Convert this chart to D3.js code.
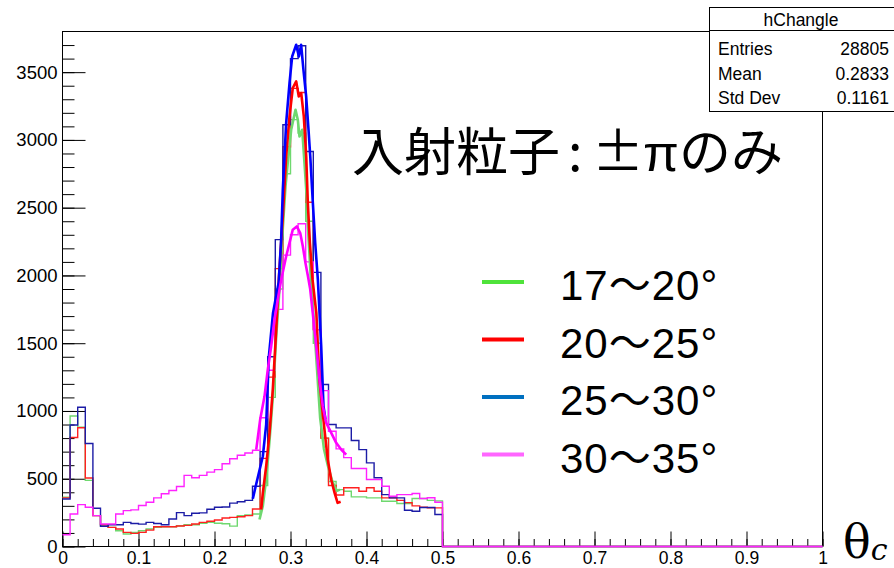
<!DOCTYPE html>
<html>
<head>
<meta charset="utf-8">
<script src="https://cdn.jsdelivr.net/npm/d3@7/dist/d3.min.js"></script>
<style>
  body { margin: 0; background: white; }
  svg { display: block; }
</style>
</head>
<body>
<div id="chart"></div>
<script>
// hChangle: theta_c, bins of 0.01 from 0 to 0.5 (empty above 0.5)
const binWidth = 0.01;
const binLow = d3.range(50).map((i) => i / 100);

// thin histograms (counts per bin)
const green1720 = [364, 963, 880, 488, 228, 153, 141, 116, 92, 104,
  116, 129, 141, 146, 146, 153, 161, 161, 171, 178,
  172, 168, 150, 228, 232, 240, 450, 1100, 1900, 2750,
  3150, 3050, 2400, 1500, 800, 480, 420, 408, 366, 366,
  359, 359, 334, 334, 317, 317, 354, 354, 340, 337];
const red2025 = [359, 804, 876, 505, 228, 161, 141, 129, 104, 97,
  104, 121, 146, 146, 146, 151, 156, 166, 178, 186,
  195, 210, 215, 220, 228, 277, 650, 1250, 2050, 2950,
  3380, 3350, 2540, 1600, 800, 450, 380, 433, 433, 408,
  433, 408, 359, 359, 340, 324, 300, 290, 285, 285];
const blue2530 = [351, 896, 1027, 760, 282, 149, 161, 161, 178, 170,
  165, 178, 170, 161, 203, 250, 228, 245, 248, 275,
  290, 292, 320, 330, 340, 445, 700, 1400, 2264, 3112,
  3600, 3695, 2915, 2023, 1195, 900, 875, 875, 782, 715,
  617, 507, 383, 359, 359, 268, 260, 288, 288, 236];
const magenta3035 = [87, 240, 309, 290, 228, 166, 166, 240, 265, 270,
  302, 327, 359, 389, 413, 443, 525, 507, 525, 549,
  567, 611, 648, 673, 690, 710, 950, 1300, 1750, 2150,
  2300, 2382, 2100, 1600, 1150, 850, 720, 656, 575, 575,
  494, 494, 445, 371, 383, 383, 391, 354, 360, 327];

// thick peak curves [theta_c, counts]
const greenPeak = [[0.2592, 199], [0.2636, 300], [0.268, 500], [0.2724, 780], [0.2767, 1100],
  [0.2812, 1550], [0.2855, 1900], [0.2899, 2350], [0.2934, 2657], [0.2964, 2830],
  [0.3009, 3075], [0.3066, 3223], [0.3096, 3149], [0.3118, 3026], [0.3154, 3075],
  [0.3184, 2830], [0.3207, 2633], [0.3235, 2300], [0.327, 1950], [0.331, 1650],
  [0.335, 1300], [0.339, 950], [0.344, 720], [0.349, 600], [0.355, 480],
  [0.361, 410], [0.365, 420]];
const redPeak = [[0.2614, 273], [0.2636, 396], [0.268, 592], [0.2724, 838], [0.2767, 1158],
  [0.2812, 1600], [0.2846, 1969], [0.2899, 2436], [0.2943, 2878], [0.2987, 3173],
  [0.303, 3383], [0.3075, 3432], [0.3109, 3321], [0.3141, 3346], [0.3175, 3173],
  [0.3207, 2878], [0.3228, 2535], [0.3255, 2240], [0.329, 1969], [0.334, 1723],
  [0.338, 1232], [0.3447, 863], [0.349, 642], [0.3535, 494], [0.358, 396],
  [0.362, 322], [0.366, 330]];
const bluePeak = [[0.2504, 352], [0.2536, 430], [0.2636, 666], [0.268, 900], [0.2715, 1400],
  [0.277, 1723], [0.2845, 1950], [0.2877, 2264], [0.2899, 2633], [0.2943, 3125],
  [0.2987, 3420], [0.3022, 3616], [0.3075, 3702], [0.311, 3616], [0.314, 3702],
  [0.317, 3518], [0.3206, 3321], [0.3237, 3075], [0.326, 2878], [0.3294, 2535],
  [0.3325, 2240], [0.336, 1969], [0.3404, 1477], [0.3434, 1035], [0.346, 937]];
const magentaPeak = [[0.2549, 715], [0.2601, 937], [0.2658, 1108], [0.2701, 1305], [0.2746, 1477],
  [0.2789, 1674], [0.2833, 1822], [0.2878, 1969], [0.2943, 2141], [0.2987, 2240],
  [0.303, 2338], [0.3083, 2362], [0.3128, 2313], [0.3162, 2215], [0.3197, 2092],
  [0.3228, 2000], [0.3259, 1900], [0.3293, 1723], [0.3329, 1527], [0.3382, 1232],
  [0.3425, 1035], [0.347, 912], [0.3536, 838], [0.3601, 765], [0.3667, 715], [0.3733, 678]];

const yMajor = [0, 500, 1000, 1500, 2000, 2500, 3000, 3500];
const yMinor = d3.range(0, 3800, 100);
const xMajor = [0, 0.1, 0.2, 0.3, 0.4, 0.5, 0.6, 0.7, 0.8, 0.9, 1];
const xMinor = d3.range(0, 1.001, 0.02);

const statsTitle = "hChangle";
const statsNames = ["Entries", "Mean", "Std Dev"];
const statsValues = ["28805", "0.2833", "0.1161"];

const legendLabels = ["17～20°", "20～25°", "25～30°", "30～35°"];
const legendColors = ["#4fe33a", "#ff0000", "#0070c0", "#ff66ff"];

// title pieces with their left edges
const titleText = ["入射粒子", ":", "±", "π", "のみ"];
const titleX = [352, 568, 592, 643, 679];

const W = 894, H = 568;
const frame = { left: 62.5, right: 822.5, top: 31.5, bottom: 546.5 };
const rootFont = "'Liberation Sans', Arial, Helvetica, sans-serif";
const cjkFont = "'Noto Sans CJK JP', sans-serif";

const x = d3.scaleLinear().domain([0, 1]).range([frame.left, frame.right]);
const y = d3.scaleLinear().domain([0, 3800]).range([frame.bottom, frame.top]);

const svg = d3.select("#chart").append("svg").attr("width", W).attr("height", H);
svg.append("rect").attr("width", W).attr("height", H).attr("fill", "white");

// ticks inside the frame, like ROOT
svg.append("g")
  .attr("transform", `translate(${frame.left},0)`)
  .call(d3.axisLeft(y).tickValues(yMinor).tickSize(-12).tickFormat(""))
  .call((g) => g.select(".domain").remove());

svg.append("g")
  .attr("transform", `translate(${frame.left},0)`)
  .call(d3.axisLeft(y).tickValues(yMajor).tickSize(-23).tickPadding(5).tickFormat(d3.format("d")))
  .call((g) => g.select(".domain").remove())
  .attr("font-size", 18.5)
  .attr("font-family", rootFont);

svg.append("g")
  .attr("transform", `translate(0,${frame.bottom})`)
  .call(d3.axisBottom(x).tickValues(xMinor).tickSize(-7.5).tickFormat(""))
  .call((g) => g.select(".domain").remove());

svg.append("g")
  .attr("transform", `translate(0,${frame.bottom})`)
  .call(d3.axisBottom(x).tickValues(xMajor).tickSize(-15).tickPadding(5)
    .tickFormat((d) => String(+d.toFixed(1))))
  .call((g) => g.select(".domain").remove())
  .attr("font-size", 17.5)
  .attr("font-family", rootFont);

svg.append("rect")
  .attr("x", frame.left).attr("y", frame.top)
  .attr("width", frame.right - frame.left)
  .attr("height", frame.bottom - frame.top)
  .attr("fill", "none").attr("stroke", "black").attr("stroke-width", 1);

const stepPoints = (vals) => {
  const pts = [];
  vals.forEach((v, i) => {
    pts.push([binLow[i], v]);
    pts.push([binLow[i] + binWidth, v]);
  });
  pts.push([0.5, 0]);
  pts.push([1, 0]);
  return pts;
};

const line = d3.line().x((d) => x(d[0])).y((d) => y(d[1]));

const addHist = (vals, color) => {
  svg.append("path")
    .attr("fill", "none")
    .attr("stroke", color)
    .attr("stroke-width", 1.4)
    .attr("d", line(stepPoints(vals)));
};

const addPeak = (pts, color) => {
  svg.append("path")
    .attr("fill", "none")
    .attr("stroke", color)
    .attr("stroke-width", 2.6)
    .attr("stroke-linejoin", "round")
    .attr("d", line(pts));
};

addHist(green1720, "#6fd86f");
addHist(red2025, "#ff2020");
addHist(blue2530, "#1c1ca6");
addHist(magenta3035, "#ff22ff");

addPeak(greenPeak, "#6fd86f");
addPeak(redPeak, "#ff0000");
addPeak(bluePeak, "#0000ff");
addPeak(magentaPeak, "#ff00ff");

// stats box
const stats = svg.append("g").attr("font-family", rootFont).attr("font-size", 17.5);
stats.append("rect")
  .attr("x", 709.5).attr("y", 7.5).attr("width", 200).attr("height", 104)
  .attr("fill", "white").attr("stroke", "black");
stats.append("line")
  .attr("x1", 709.5).attr("x2", 894).attr("y1", 30.5).attr("y2", 30.5)
  .attr("stroke", "black");
stats.append("text")
  .attr("x", 801).attr("y", 26).attr("text-anchor", "middle")
  .text(statsTitle);
stats.selectAll("text.name")
  .data(statsNames).enter().append("text")
  .attr("class", "name")
  .attr("x", 718).attr("y", (d, i) => 55 + i * 24.5)
  .text((d) => d);
stats.selectAll("text.val")
  .data(statsValues).enter().append("text")
  .attr("class", "val")
  .attr("x", 889).attr("y", (d, i) => 55 + i * 24.5)
  .attr("text-anchor", "end")
  .text((d) => d);

// big title
const title = svg.append("text")
  .attr("y", 171)
  .attr("font-family", cjkFont)
  .attr("font-size", 52);
titleText.forEach((t, i) => {
  title.append("tspan")
    .attr("x", titleX[i])
    .attr("font-family", t === "π" ? rootFont : cjkFont)
    .text(t);
});

// legend
const legend = svg.append("g");
legendLabels.forEach((lab, i) => {
  const ly = 282 + i * 57.5;
  legend.append("line")
    .attr("x1", 482).attr("x2", 524).attr("y1", ly).attr("y2", ly)
    .attr("stroke", legendColors[i]).attr("stroke-width", 4);
  legend.append("text")
    .attr("x", 560).attr("y", ly + 18)
    .attr("font-family", "'Liberation Sans', 'Noto Sans CJK JP', sans-serif")
    .attr("font-size", 42)
    .attr("letter-spacing", 1)
    .text(lab);
});

// axis title
const xt = svg.append("text")
  .attr("x", 843).attr("y", 558)
  .attr("font-family", "'DejaVu Serif', serif");
xt.append("tspan").attr("font-size", 46).text("θ");
xt.append("tspan").attr("font-size", 30).attr("font-style", "italic").attr("dy", 2).text("c");
</script>
</body>
</html>
